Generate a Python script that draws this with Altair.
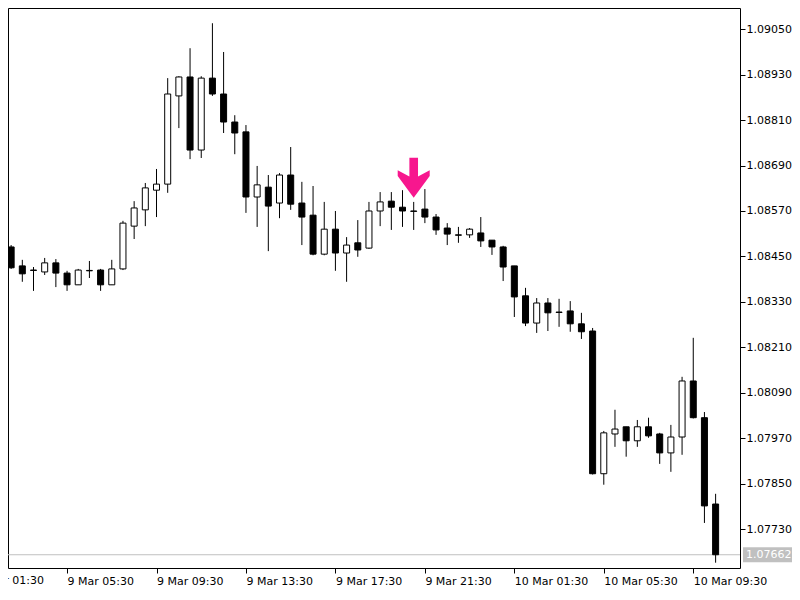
import altair as alt
import pandas as pd

# ---- data (EURUSD M30 candles) ----
start_time = "2020-03-09 03:00"
opens = [1.08475, 1.08425, 1.08414, 1.08409, 1.08433, 1.08406, 1.08375, 1.08412, 1.08414, 1.08375,
         1.08417, 1.08530, 1.08573, 1.08625, 1.08641, 1.08874, 1.08924, 1.08731, 1.08921, 1.08879,
         1.08805, 1.08779, 1.08607, 1.08633, 1.08591, 1.08665, 1.08591, 1.08559, 1.08456, 1.08522,
         1.08459, 1.08486, 1.08472, 1.08570, 1.08596, 1.08580, 1.08570, 1.08575, 1.08554, 1.08525,
         1.08507, 1.08507, 1.08512, 1.08493, 1.08475, 1.08425, 1.08346, 1.08274, 1.08327, 1.08303,
         1.08306, 1.08272, 1.08253, 1.07876, 1.07981, 1.08000, 1.07963, 1.08000, 1.07981, 1.07931,
         1.07973, 1.08121, 1.08024, 1.07796]
highs = [1.08480, 1.08441, 1.08422, 1.08446, 1.08443, 1.08412, 1.08417, 1.08438, 1.08417, 1.08441,
         1.08544, 1.08596, 1.08644, 1.08681, 1.08921, 1.08926, 1.09000, 1.08926, 1.09066, 1.08990,
         1.08823, 1.08797, 1.08689, 1.08665, 1.08670, 1.08739, 1.08647, 1.08636, 1.08594, 1.08570,
         1.08501, 1.08546, 1.08594, 1.08620, 1.08620, 1.08625, 1.08594, 1.08628, 1.08562, 1.08538,
         1.08528, 1.08525, 1.08554, 1.08493, 1.08478, 1.08425, 1.08367, 1.08340, 1.08340, 1.08338,
         1.08332, 1.08301, 1.08261, 1.07989, 1.08045, 1.08000, 1.08018, 1.08024, 1.07984, 1.08005,
         1.08132, 1.08235, 1.08039, 1.07823]
lows = [1.08417, 1.08383, 1.08359, 1.08401, 1.08369, 1.08359, 1.08375, 1.08393, 1.08359, 1.08375,
        1.08414, 1.08496, 1.08530, 1.08554, 1.08618, 1.08789, 1.08707, 1.08710, 1.08874, 1.08776,
        1.08720, 1.08565, 1.08528, 1.08464, 1.08551, 1.08573, 1.08480, 1.08453, 1.08453, 1.08412,
        1.08383, 1.08449, 1.08470, 1.08530, 1.08520, 1.08528, 1.08520, 1.08538, 1.08507, 1.08480,
        1.08486, 1.08499, 1.08475, 1.08454, 1.08385, 1.08290, 1.08266, 1.08248, 1.08253, 1.08264,
        1.08251, 1.08232, 1.07874, 1.07847, 1.07947, 1.07921, 1.07947, 1.07971, 1.07902, 1.07881,
        1.07926, 1.08022, 1.07746, 1.07641]
closes = [1.08420, 1.08404, 1.08413, 1.08433, 1.08406, 1.08375, 1.08414, 1.08413, 1.08375, 1.08417,
          1.08538, 1.08578, 1.08631, 1.08641, 1.08879, 1.08924, 1.08731, 1.08921, 1.08879, 1.08805,
          1.08776, 1.08607, 1.08639, 1.08583, 1.08665, 1.08588, 1.08554, 1.08456, 1.08522, 1.08459,
          1.08480, 1.08467, 1.08570, 1.08594, 1.08580, 1.08570, 1.08569, 1.08554, 1.08520, 1.08509,
          1.08506, 1.08522, 1.08491, 1.08475, 1.08422, 1.08343, 1.08274, 1.08327, 1.08301, 1.08302,
          1.08272, 1.08251, 1.07876, 1.07984, 1.07994, 1.07963, 1.08000, 1.07976, 1.07931, 1.07973,
          1.08121, 1.08024, 1.07791, 1.07662]

last_price = 1.07662
signal_time = "2020-03-09T21:00:00"
signal_price = 1.08658

y_tick_values = [1.07730, 1.07850, 1.07970, 1.08090, 1.08210, 1.08330, 1.08450,
                 1.08570, 1.08690, 1.08810, 1.08930, 1.09050]
x_tick_times = [(9, 5), (9, 9), (9, 13), (9, 17), (9, 21), (10, 1), (10, 5), (10, 9)]
cut_label_time = "2020-03-09T01:30:00"
cut_label_text = "9 Mar 01:30"

# ---- tables ----
times = pd.date_range(start_time, periods=len(opens), freq="30min").strftime("%Y-%m-%dT%H:%M:%S")
df = pd.DataFrame({"time": times, "open": opens, "high": highs, "low": lows, "close": closes})
df["dir"] = ["up" if c >= o else "down" for o, c in zip(opens, closes)]

sig_df = pd.DataFrame({"time": [signal_time], "price": [signal_price]})
last_df = pd.DataFrame({"price": [last_price], "label": [f"{last_price:.5f}"]})
cut_df = pd.DataFrame({"time": [cut_label_time], "label": [cut_label_text]})

W, H = 732, 560
PAD_R, PAD_B = 52, 19
FONT = "DejaVu Sans"

xscale = alt.Scale(domain=[alt.DateTime(year=2020, month=3, date=9, hours=3, minutes=5),
                           alt.DateTime(year=2020, month=3, date=10, hours=11, minutes=22)],
                   nice=False)
yscale = alt.Scale(domain=[1.07627, 1.091062], nice=False, zero=False)

xaxis = alt.Axis(values=[alt.DateTime(year=2020, month=3, date=d, hours=h, minutes=30)
                         for d, h in x_tick_times],
                 format="%-d %b %H:%M", labelAlign="left", labelBaseline="top",
                 labelPadding=2, tickSize=5, tickColor="black", domain=False, grid=False,
                 labelFlush=False, labelOverlap=False, title=None, labelFont=FONT,
                 labelFontSize=11, labelColor="black")
yaxis = alt.Axis(orient="right", values=y_tick_values, format=".5f", labelAlign="left",
                 labelBaseline="middle", labelPadding=1, tickSize=5, tickColor="black",
                 domain=False, grid=False, labelFlush=False, labelOverlap=False, title=None,
                 labelFont=FONT, labelFontSize=11, labelColor="black")


def X(field="time"):
    return alt.X(f"{field}:T", scale=xscale, axis=xaxis)


def Y(field):
    return alt.Y(f"{field}:Q", scale=yscale, axis=yaxis)


base = alt.Chart(df)

last_line = alt.Chart(last_df).mark_rule(color="#C0C0C0", strokeWidth=1).encode(y=Y("price"))

wicks = base.mark_rule(color="black", strokeWidth=1, clip=True).encode(
    x=X(), y=Y("low"), y2="high")

bodies = base.mark_bar(size=6, stroke="black", strokeWidth=1, clip=True).encode(
    x=X(), y=Y("open"), y2="close",
    color=alt.Color("dir:N", scale=alt.Scale(domain=["up", "down"], range=["white", "black"]),
                    legend=None))

# down arrow with a slightly notched head (MetaTrader style signal arrow)
arrow_path = ("M -0.27 -1.25 L 0.27 -1.25 L 0.27 -0.08 L 1 -0.46 L 1 -0.1 "
              "L 0 1.25 L -1 -0.1 L -1 -0.46 L -0.27 -0.08 Z")
arrow = alt.Chart(sig_df).mark_point(shape=arrow_path, filled=True, size=1024,
                                     color="#F7178E", opacity=1, strokeWidth=0).encode(
    x=X(), y=Y("price"))

box_half = PAD_R / 2 - 1.5
box_path = "M -1 -0.31 L 1 -0.31 L 1 0.31 L -1 0.31 Z"
last_box = alt.Chart(last_df).mark_point(shape=box_path, filled=True, size=(2 * box_half) ** 2,
                                         color="#C0C0C0", opacity=1, strokeWidth=0).encode(
    x=alt.value(W + PAD_R - box_half), y=Y("price"))
last_text = alt.Chart(last_df).mark_text(font=FONT, fontSize=11, color="white",
                                         align="left", baseline="middle").encode(
    x=alt.value(W + 6), y=Y("price"), text="label:N")

cut_label = alt.Chart(cut_df).mark_text(font=FONT, fontSize=11, color="black",
                                        align="left", baseline="top").encode(
    x=X(), y=alt.value(H + 7), text="label:N")

chart = alt.layer(last_line, wicks, bodies, arrow, last_box, last_text, cut_label).properties(
    width=W, height=H,
    autosize=alt.AutoSizeParams(type="none"),
    padding={"left": 0, "top": 0, "right": PAD_R, "bottom": PAD_B},
    background="white",
).configure_view(stroke="black", strokeWidth=1)

chart.save("out.html", embed_options={"renderer": "svg", "actions": False})
